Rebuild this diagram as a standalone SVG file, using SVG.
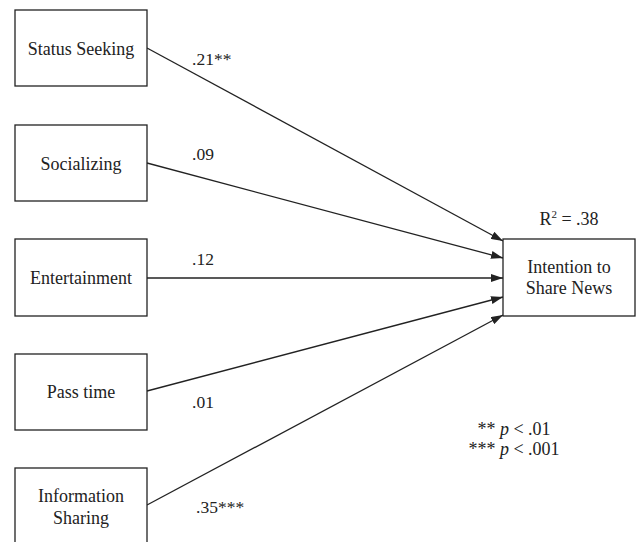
<svg xmlns="http://www.w3.org/2000/svg" width="636" height="542" viewBox="0 0 636 542">
<style>
  .box { fill: #fff; stroke: #222; stroke-width: 1.3; }
  .t { font-size: 18px; fill: #222; text-anchor: middle; }
  .lbl { font-size: 17.5px; fill: #222; }
  .edge { stroke: #222; stroke-width: 1.3; fill: none; marker-end: url(#arr); }
</style>
<defs>
  <marker id="arr" viewBox="0 0 12 8" refX="12" refY="4" markerWidth="12" markerHeight="8" markerUnits="userSpaceOnUse" orient="auto">
    <path d="M0,0 L12,4 L0,8 Z" fill="#222"/>
  </marker>
</defs>
<rect width="636" height="542" fill="#fff"/>
<g id="connectors">
  <line class="edge" x1="147" y1="48" x2="503" y2="241"/>
  <line class="edge" x1="147" y1="163" x2="503" y2="258"/>
  <line class="edge" x1="147" y1="278" x2="503" y2="278"/>
  <line class="edge" x1="147" y1="391" x2="503" y2="297"/>
  <line class="edge" x1="147" y1="505" x2="503" y2="315"/>
</g>
<g id="labels" font-family="Liberation Serif">
  <text class="lbl" x="192" y="65">.21**</text>
  <text class="lbl" x="192" y="160">.09</text>
  <text class="lbl" x="192" y="265">.12</text>
  <text class="lbl" x="192" y="408">.01</text>
  <text class="lbl" x="196" y="513">.35***</text>
</g>
<g id="status-seeking" font-family="Liberation Serif">
  <rect class="box" x="15" y="10" width="132" height="76"/>
  <text class="t" x="81" y="55">Status Seeking</text>
</g>
<g id="socializing" font-family="Liberation Serif">
  <rect class="box" x="15" y="125" width="132" height="76"/>
  <text class="t" x="81" y="170">Socializing</text>
</g>
<g id="entertainment" font-family="Liberation Serif">
  <rect class="box" x="15" y="239" width="132" height="77"/>
  <text class="t" x="81" y="284">Entertainment</text>
</g>
<g id="pass-time" font-family="Liberation Serif">
  <rect class="box" x="15" y="354" width="132" height="76"/>
  <text class="t" x="81" y="398">Pass time</text>
</g>
<g id="information-sharing" font-family="Liberation Serif">
  <rect class="box" x="15" y="468" width="132" height="80"/>
  <text class="t" x="81" y="502">Information</text>
  <text class="t" x="81" y="524">Sharing</text>
</g>
<g id="intention" font-family="Liberation Serif">
  <rect class="box" x="503" y="239" width="132" height="77"/>
  <text class="t" x="569" y="273">Intention to</text>
  <text class="t" x="569" y="294">Share News</text>
  <text class="t" x="569" y="225">R<tspan font-size="11" dy="-7">2</tspan><tspan dy="7"> = .38</tspan></text>
</g>
<g id="legend" font-family="Liberation Serif">
  <text class="t" x="514" y="435">** <tspan font-style="italic">p</tspan> &lt; .01</text>
  <text class="t" x="514" y="455">*** <tspan font-style="italic">p</tspan> &lt; .001</text>
</g>
</svg>
